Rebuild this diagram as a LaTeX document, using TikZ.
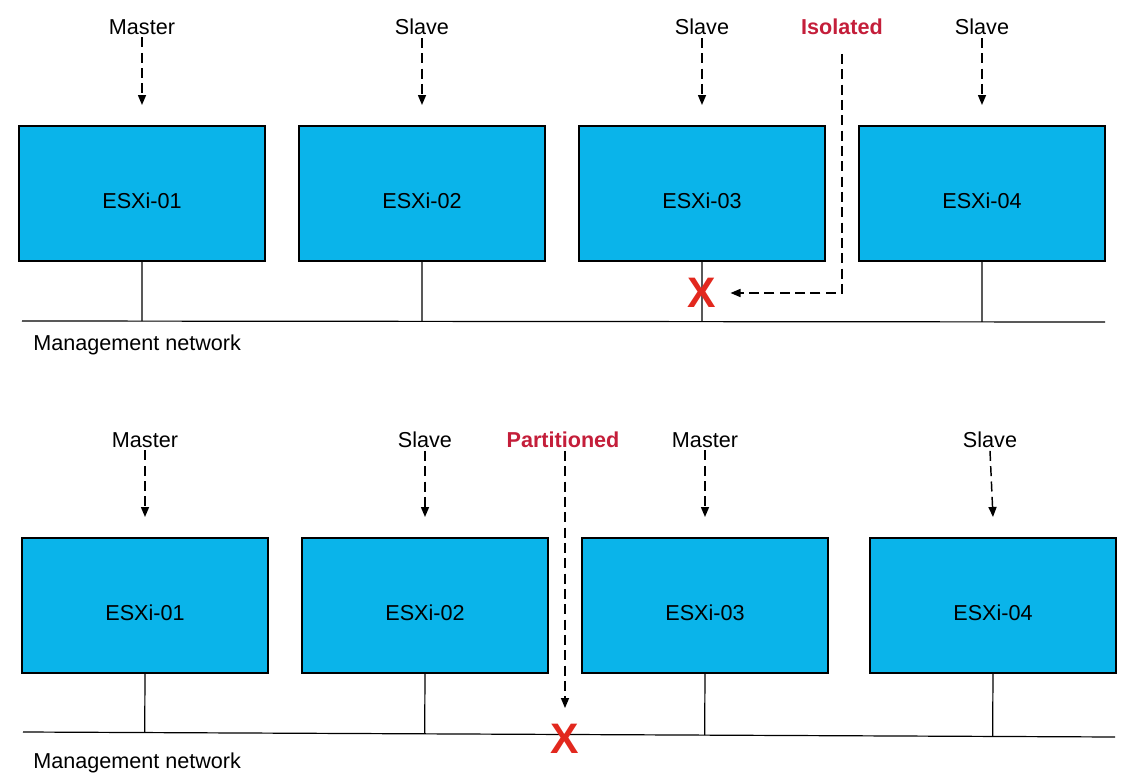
\documentclass[tikz,border=0pt]{standalone}
\usepackage{fontspec}
\setmainfont{Liberation Sans}
\usetikzlibrary{arrows.meta,calc}
\definecolor{hostblue}{RGB}{10,180,234}
\definecolor{labred}{RGB}{196,30,58}
\definecolor{xred}{RGB}{226,40,30}
\tikzset{
  host/.style={draw=black, line width=1.5pt, fill=hostblue, minimum width=184.5pt, minimum height=101.25pt, inner sep=0pt, font=\fontsize{16.2}{19}\selectfont},
  role/.style={font=\fontsize{16.2}{19}\selectfont, inner sep=2pt},
  rolered/.style={role, font=\fontsize{16.2}{19}\selectfont\bfseries, text=labred},
  netlabel/.style={font=\fontsize{16.2}{19}\selectfont, anchor=west, inner sep=0pt},
  darrow/.style={draw=black, line width=1.1pt, dash pattern=on 7.5pt off 4pt, -{Triangle[length=7.5pt,width=6pt]}},
  wire/.style={draw=black, line width=0.9pt},
  cross/.style={text=xred, font=\fontsize{32}{34}\selectfont\bfseries, inner xsep=10.5pt, inner ysep=0pt}
}
\newcommand{\hosttext}[1]{\raisebox{-11.4pt}[0pt][0pt]{#1}}
\begin{document}
\begin{tikzpicture}[x=0.75pt,y=-0.75pt]
\path[use as bounding box] (0,0) rectangle (1133,778);
% ---------- top scenario ----------
\node[host] (a1) at (142,193.5) {\hosttext{ESXi-01}};
\node[host] (a2) at (422,193.5) {\hosttext{ESXi-02}};
\node[host] (a3) at (702,193.5) {\hosttext{ESXi-03}};
\node[host] (a4) at (982,193.5) {\hosttext{ESXi-04}};
\node[role] (ra1) at (142,27) {Master};
\node[role] (ra2) at (422,27) {Slave};
\node[role] (ra3) at (702,27) {Slave};
\node[rolered] (iso) at (842,27) {Isolated};
\node[role] (ra4) at (982,27) {Slave};
\foreach \i in {1,2,3,4}{
  \draw[darrow] (ra\i.south) -- ($(a\i.north)+(0,-20)$);
}
\coordinate (tl) at (22,321);
\coordinate (tr) at (1105,322);
\draw[wire] (tl) -- (tr);
\foreach \i in {1,2,4}{
  \draw[wire] (a\i.south) -- ($(tl)!(a\i.south)!(tr)$);
}
\coordinate (t3) at ($(tl)!(a3.south)!(tr)$);
\draw[wire] (a3.south) -- (t3);
\node[cross] (x1) at (702,293) {X};
\draw[darrow, shorten <=12pt] (iso.south) |- (x1.east);
\node[netlabel] (n1) at (33,345) {Management network};
% ---------- bottom scenario ----------
\node[host] (b1) at (145,605.5) {\hosttext{ESXi-01}};
\node[host] (b2) at (425,605.5) {\hosttext{ESXi-02}};
\node[host] (b3) at (705,605.5) {\hosttext{ESXi-03}};
\node[host] (b4) at (993,605.5) {\hosttext{ESXi-04}};
\node[role] (rb1) at (145,440) {Master};
\node[role] (rb2) at (425,440) {Slave};
\node[rolered] (part) at (563,440) {Partitioned};
\node[role] (rb3) at (705,440) {Master};
\node[role] (rb4) at (990,440) {Slave};
\foreach \i in {1,2,3,4}{
  \draw[darrow] (rb\i.south) -- ($(b\i.north)+(0,-20)$);
}
\coordinate (bl) at (23,732);
\coordinate (br) at (1115,737);
\draw[wire] (bl) -- (br);
\foreach \i in {1,2,3,4}{
  \draw[wire] (b\i.south) -- ($(bl)!(b\i.south)!(br)$);
}
\node[cross] (x2) at (565,739) {X};
\draw[darrow] (part.south -| x2) -- ($(x2.north)+(0,-16)$);
\node[netlabel] (n2) at (33,763) {Management network};
\end{tikzpicture}
\end{document}
